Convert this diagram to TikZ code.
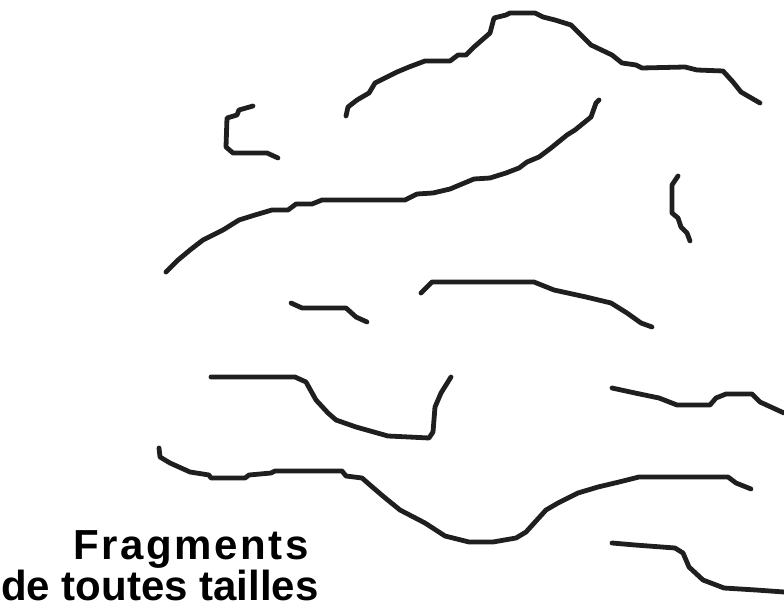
\documentclass[tikz,border=0pt]{standalone}
\usepackage{fontspec}
\setmainfont{Liberation Sans}
\begin{document}
\begin{tikzpicture}[x=1pt,y=-1pt,
  frag/.style={draw=black!88,line width=4.8pt,line cap=round,line join=round},
  lbl/.style={anchor=base,inner sep=0pt,font=\fontsize{42}{42}\selectfont\bfseries}]
\useasboundingbox (0,0) rectangle (784,612);
% small hook
\draw[frag] (253,106) -- (239,110) -- (237,115) -- (227,118) -- (226,147) -- (233,153) -- (267,153) -- (278,158);
% mountain ridge
\draw[frag] (346,116) -- (348,107) -- (357,100) -- (369,93) -- (375,83) -- (385,78) -- (397,72) -- (409,67) -- (425,61) -- (450,61) -- (458,55) -- (466,55) -- (474,47) -- (490,33) -- (494,18) -- (506,15) -- (510,13) -- (535,13) -- (543,17) -- (555,20) -- (571,25) -- (579,33) -- (591,45) -- (612,55) -- (622,63) -- (636,65) -- (642,68) -- (685,67) -- (697,70) -- (723,71) -- (733,82) -- (741,92) -- (753,99) -- (760,103);
% long rising curve
\draw[frag] (166,272) -- (178,260) -- (190,250) -- (203,240) -- (223,230) -- (239,220) -- (255,215) -- (272,210) -- (288,210) -- (296,204) -- (312,204) -- (322,200) -- (405,200) -- (417,194) -- (433,193) -- (450,189) -- (474,179) -- (490,178) -- (506,173) -- (519,168) -- (527,162) -- (539,157) -- (551,148) -- (567,135) -- (575,130) -- (591,117) -- (596,103) -- (599,100);
% small vertical
\draw[frag] (678,176) -- (672,185) -- (672,213) -- (678,218) -- (681,227) -- (687,233) -- (690,241);
% short segment
\draw[frag] (291,303) -- (302,308) -- (346,308) -- (356,317) -- (367,322);
% middle arc
\draw[frag] (421,293) -- (432,282) -- (534,282) -- (554,290) -- (586,297) -- (611,303) -- (627,313) -- (641,323) -- (652,327);
% hook curve
\draw[frag] (211,377) -- (295,377) -- (306,382) -- (316,400) -- (328,413) -- (336,420) -- (356,427) -- (388,436) -- (409,437) -- (429,438) -- (433,432) -- (435,407) -- (441,393) -- (451,377);
% right wave
\draw[frag] (612,388) -- (635,393) -- (659,398) -- (677,405) -- (710,405) -- (716,398) -- (726,394) -- (752,394) -- (760,402) -- (784,413);
% long lower curve
\draw[frag] (159,448) -- (160,457) -- (170,463) -- (190,472) -- (209,475) -- (211,478) -- (245,478) -- (249,475) -- (271,473) -- (275,471) -- (342,471) -- (346,476) -- (362,478) -- (370,485) -- (384,497) -- (400,510) -- (425,523) -- (445,536) -- (469,542) -- (493,542) -- (516,538) -- (526,532) -- (546,510) -- (558,503) -- (578,493) -- (598,487) -- (619,482) -- (639,477) -- (728,477) -- (736,483) -- (751,489);
% bottom right
\draw[frag] (612,543) -- (635,545) -- (675,548) -- (683,553) -- (689,567) -- (703,580) -- (724,588) -- (756,590) -- (784,592);
% label
\node[lbl] (t1) at (191,559) {\addfontfeatures{LetterSpace=6}Fragments};
\node[lbl] (t2) at (160,600) {de toutes tailles};
\end{tikzpicture}
\end{document}
